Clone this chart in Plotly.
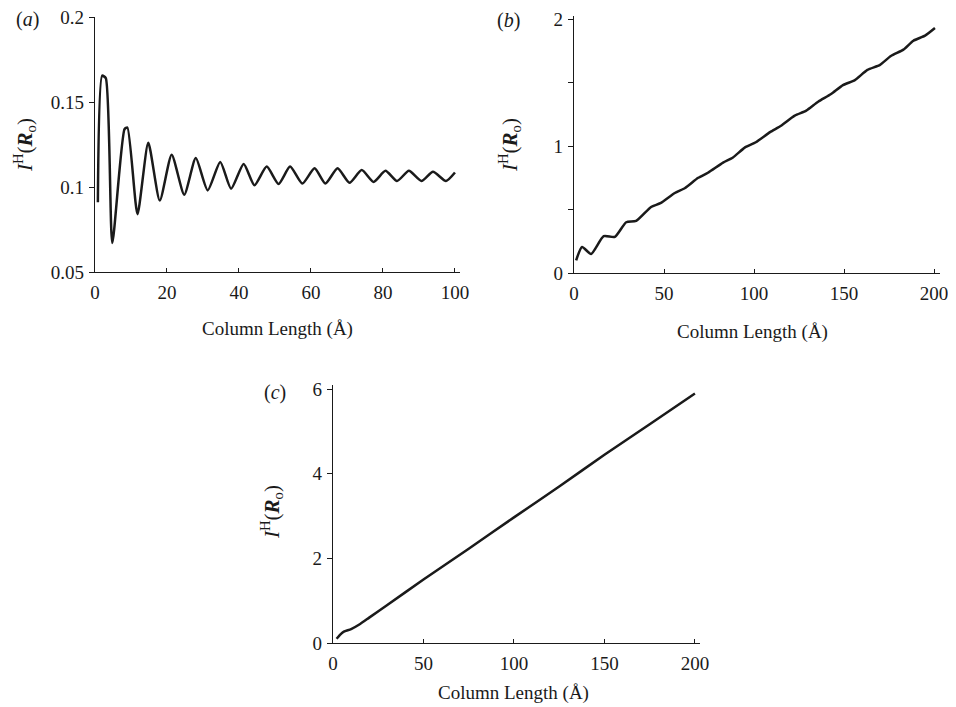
import plotly.graph_objects as go

# ---- data ----
a_x = [0.8, 2.0, 3.0, 4.8, 8.2, 9.0, 11.8, 14.8, 18.0, 21.3, 24.8, 28.0, 31.3, 34.8, 37.8,
       41.3, 44.3, 47.7, 51.0, 54.2, 57.6, 61.0, 64.0, 67.4, 70.7, 74.1, 77.4, 80.7,
       83.9, 87.2, 90.7, 93.9, 97.5, 100.0]
a_y = [0.091, 0.1655, 0.164, 0.067, 0.134, 0.135, 0.084, 0.126, 0.092, 0.119, 0.0955, 0.117,
       0.098, 0.1147, 0.099, 0.1135, 0.101, 0.112, 0.1018, 0.112, 0.102, 0.111, 0.102,
       0.111, 0.1025, 0.110, 0.103, 0.1095, 0.1035, 0.1095, 0.1035, 0.109, 0.1035, 0.1085]

b_x = [1.2, 4.5, 9.5, 16.5, 22.7, 29.0, 34.5, 42.8, 48.0, 56.0, 61.7, 69.0, 74.4, 82.8,
       88.3, 95.0, 101.0, 108.9, 115.0, 122.6, 129.0, 135.6, 142.8, 149.4, 156.0, 163.0,
       170.0, 176.0, 183.0, 188.5, 195.0, 200.5]
b_y = [0.10, 0.205, 0.15, 0.29, 0.285, 0.40, 0.41, 0.52, 0.55, 0.63, 0.67, 0.75, 0.79, 0.87,
       0.91, 0.99, 1.03, 1.11, 1.16, 1.24, 1.28, 1.35, 1.41, 1.48, 1.52, 1.60, 1.64, 1.71,
       1.76, 1.83, 1.87, 1.93]

c_x = [2, 4, 6, 10, 15, 20, 30, 50, 75, 100, 125, 150, 175, 200]
c_y = [0.10, 0.20, 0.27, 0.33, 0.45, 0.60, 0.90, 1.50, 2.23, 2.97, 3.70, 4.45, 5.17, 5.90]

a_xticks = [0, 20, 40, 60, 80, 100]
a_yticks = [0.05, 0.1, 0.15, 0.2]
a_ylabels = ["0.05", "0.1", "0.15", "0.2"]
bc_xticks = [0, 50, 100, 150, 200]
b_yticks = [0, 1, 2]
c_yticks = [0, 2, 4, 6]

x_title = "Column Length (Å)"
y_title = "<i>I</i><sup>H</sup>(<b><i>R</i></b><sub>o</sub>)"

# the page body has an 8px margin: the figure starts at page pixel (8, 8)
OFF = 8
W, H = 948, 699
FONT = "Liberation Serif"
INK = "#1a1a1a"

def px(x):
    return (x - OFF) / W

def py(y):
    return 1 - (y - OFF) / H

fig = go.Figure()
line = dict(color=INK, width=2.5, shape="spline", smoothing=0.6)
fig.add_trace(go.Scatter(x=a_x, y=a_y, mode="lines", line=line, xaxis="x", yaxis="y"))
fig.add_trace(go.Scatter(x=b_x, y=b_y, mode="lines", line=line, xaxis="x2", yaxis="y2"))
fig.add_trace(go.Scatter(x=c_x, y=c_y, mode="lines", line=line, xaxis="x3", yaxis="y3"))

tickfont = dict(family=FONT, size=19, color=INK)
common_x = dict(showline=True, linecolor=INK, linewidth=1.3, ticks="inside", ticklen=4,
                tickcolor=INK, showgrid=False, zeroline=False, tickfont=tickfont,
                ticklabelstandoff=3, automargin=False, ticklabeloverflow="allow")
common_y = dict(showline=True, linecolor=INK, linewidth=1.3, ticks="outside", ticklen=5,
                tickcolor=INK, showgrid=False, zeroline=False, tickfont=tickfont,
                ticklabelstandoff=1, automargin=False, ticklabeloverflow="allow")

fig.update_layout(
    width=W, height=H, margin=dict(l=0, r=0, t=0, b=0, autoexpand=False),
    font=dict(family=FONT, size=19, color=INK),
    paper_bgcolor="white", plot_bgcolor="white", showlegend=False,
    xaxis=dict(domain=[px(95), px(460)], range=[0, 101.4], anchor="y",
               tickvals=a_xticks, **common_x),
    yaxis=dict(domain=[py(272), py(17)], range=[0.05, 0.2], anchor="x",
               tickvals=a_yticks, ticktext=a_ylabels, **common_y),
    xaxis2=dict(domain=[px(574), px(940)], range=[0, 203.3], anchor="y2",
                tickvals=bc_xticks, **common_x),
    yaxis2=dict(domain=[py(273), py(16)], range=[0, 2.025], anchor="x2",
                tickvals=b_yticks,
                minor=dict(dtick=0.5, tick0=0, ticks="outside", ticklen=5, tickcolor=INK,
                           showgrid=False),
                **common_y),
    xaxis3=dict(domain=[px(333), px(700)], range=[0, 202.8], anchor="y3",
                tickvals=bc_xticks, **common_x),
    yaxis3=dict(domain=[py(643), py(385)], range=[0, 6.1], anchor="x3",
                tickvals=c_yticks, **common_y),
)

def ann(x, y, text, size=19, angle=0):
    fig.add_annotation(x=px(x), y=py(y), xref="paper", yref="paper", text=text,
                       showarrow=False, textangle=angle, xanchor="center", yanchor="middle",
                       font=dict(family=FONT, size=size, color=INK))

# panel labels
ann(27, 19.5, "(<i>a</i>)", 20)
ann(508, 21, "(<i>b</i>)", 20)
ann(275, 392, "(<i>c</i>)", 20)
# x titles
ann(277, 329, x_title, 19)
ann(752, 332, x_title, 19)
ann(513, 693, x_title, 19)
# y titles
ann(24, 145, y_title, 21, -90)
ann(509, 145, y_title, 21, -90)
ann(271, 512, y_title, 21, -90)

fig.write_html("out.html")
